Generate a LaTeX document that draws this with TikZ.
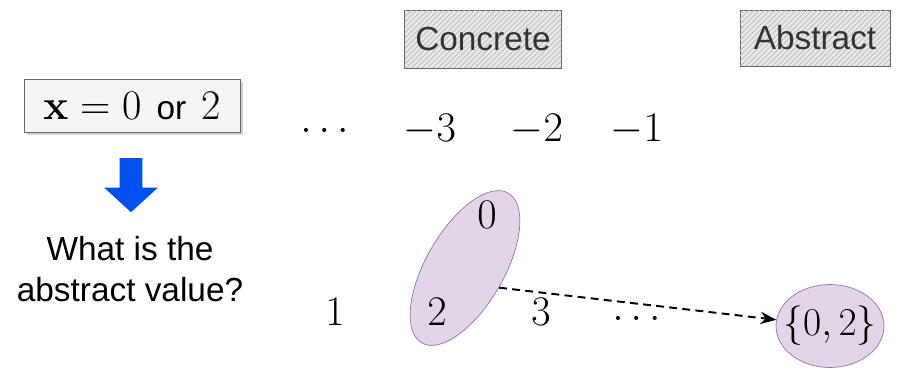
\RequirePackage{fix-cm}
\documentclass[tikz,border=0pt]{standalone}
\usepackage{amsmath,amssymb}
\usepackage[no-math]{fontspec}
\setmainfont{Liberation Sans}
\usepackage{xcolor}
\usetikzlibrary{shapes.geometric,shapes.arrows,shadows,patterns,arrows.meta}
\definecolor{setfill}{HTML}{E1D5E7}
\definecolor{setdraw}{HTML}{9673A6}
\definecolor{boxfill}{HTML}{F5F5F5}
\definecolor{boxdraw}{HTML}{666666}
\definecolor{downblue}{HTML}{0050EF}
\newcommand{\bigmath}[1]{{\fontsize{24}{28}\selectfont$#1$}}
\tikzset{
  sketchbox/.style={draw=boxdraw,fill=gray!18,postaction={pattern=north east lines,pattern color=gray!55},text=black!80,inner sep=0pt},
  valset/.style={ellipse,draw=setdraw,fill=setfill,inner sep=0pt},
  num/.style={inner sep=0pt,font=\fontsize{24}{28}\selectfont}
}
\begin{document}
\begin{tikzpicture}[x=0.02cm,y=-0.02cm,font=\fontsize{19}{23}\selectfont]
\useasboundingbox (0,0) rectangle (897,369);
\node[sketchbox,minimum width=3.14cm,minimum height=1.16cm] (concrete) at (483,39) {Concrete};
\node[sketchbox,minimum width=3.0cm,minimum height=1.12cm] (abstract) at (815,38) {Abstract};
\node[draw=boxdraw,fill=boxfill,drop shadow={opacity=0.35,shadow xshift=1.5pt,shadow yshift=-1.5pt},minimum width=4.32cm,minimum height=1.06cm,inner sep=0pt] (query) at (132,106) {\bigmath{\mathbf{x}=0}\hspace{0.3cm}or\hspace{0.3cm}\bigmath{2}};
\node[single arrow,fill=downblue,shape border rotate=270,inner sep=0.22cm,minimum height=1.08cm,single arrow head extend=0.31cm,single arrow tip angle=95] (down) at (131,180) {};
\node[align=center] (question) at (130,269) {What is the\\abstract value?};
% concrete values
\node[num] (dotsl) at (328,130) {$\dots$};
\node[num] (m3) at (430,130) {$-3$};
\node[num] (m2) at (537,130) {$-2$};
\node[num] (m1) at (637,130) {$-1$};
\node[valset,minimum width=3.46cm,minimum height=1.56cm,rotate=60] (conc) at (465,268) {};
\node[num] (zero) at (487,215) {$0$};
\node[num] (one) at (335,312) {$1$};
\node[num] (two) at (437,312) {$2$};
\node[num] (three) at (541,312) {$3$};
\node[num] (dotsr) at (640,318) {$\dots$};
% abstract value
\node[valset,minimum width=2.16cm,minimum height=1.66cm] (abs) at (830,326) {};
\node[num,font=\fontsize{22.5}{27}\selectfont] (absval) at (abs) {$\{0,2\}$};
\draw[line width=1.1pt,dash pattern=on 4.5pt off 3pt,-{Stealth[length=9pt,width=7pt]}] (conc.south) -- (abs);
\end{tikzpicture}
\end{document}
